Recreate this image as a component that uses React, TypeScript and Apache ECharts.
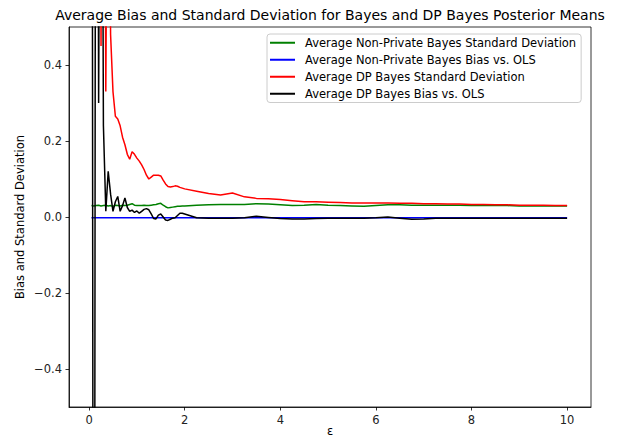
import React, { useEffect, useRef } from "react";
import * as echarts from "echarts";

// epsilon grid (x values)
const eps = [
  0.05, 0.1, 0.15, 0.2, 0.25, 0.3, 0.35, 0.4, 0.45, 0.5,
  0.55, 0.6, 0.65, 0.7, 0.75, 0.8, 0.85, 0.9, 0.95, 1.0,
  1.05, 1.1, 1.15, 1.2, 1.25, 1.3, 1.35, 1.4, 1.45, 1.5,
  1.55, 1.6, 1.65, 1.7, 1.75, 1.8, 1.85, 1.9, 1.95, 2.0,
  2.25, 2.5, 2.75, 3.0, 3.25, 3.5, 3.75, 4.0,
  4.25, 4.5, 4.75, 5.0, 5.25, 5.5, 5.75, 6.0,
  6.25, 6.5, 6.75, 7.0, 7.25, 7.5, 7.75, 8.0,
  8.25, 8.5, 8.75, 9.0, 9.25, 9.5, 9.75, 10.0,
];

const nonPrivateSD = [
  0.030, 0.029, 0.030, 0.031, 0.029, 0.030, 0.031, 0.029, 0.030, 0.028,
  0.031, 0.030, 0.029, 0.031, 0.030, 0.031, 0.033, 0.035, 0.031, 0.030,
  0.030, 0.030, 0.031, 0.030, 0.030, 0.031, 0.032, 0.033, 0.035, 0.036,
  0.031, 0.027, 0.024, 0.025, 0.026, 0.027, 0.028, 0.028, 0.029, 0.029,
  0.031, 0.032, 0.033, 0.033, 0.033, 0.035, 0.034, 0.032,
  0.030, 0.031, 0.033, 0.031, 0.030, 0.029, 0.028, 0.030,
  0.032, 0.032, 0.031, 0.031, 0.031, 0.031, 0.031, 0.030,
  0.030, 0.030, 0.030, 0.029, 0.029, 0.029, 0.029, 0.029,
];

const nonPrivateBias = [
  -0.002, -0.002, -0.002, -0.002, -0.002, -0.002, -0.002, -0.002, -0.002, -0.002,
  -0.002, -0.002, -0.002, -0.002, -0.002, -0.002, -0.002, -0.002, -0.002, -0.002,
  -0.002, -0.002, -0.002, -0.002, -0.002, -0.002, -0.002, -0.002, -0.002, -0.002,
  -0.002, -0.002, -0.002, -0.002, -0.002, -0.002, -0.002, -0.002, -0.002, -0.002,
  -0.002, -0.002, -0.002, -0.002, -0.002, -0.002, -0.002, -0.002,
  -0.002, -0.002, -0.002, -0.002, -0.002, -0.002, -0.002, -0.002,
  -0.002, -0.002, -0.002, -0.002, -0.002, -0.002, -0.002, -0.002,
  -0.002, -0.002, -0.002, -0.002, -0.002, -0.002, -0.002, -0.002,
];

const dpSD = [
  5.0, 3.0, 4.0, 2.5, 0.45, 2.0, 0.33, 1.4, 0.48, 0.33,
  0.265, 0.258, 0.24, 0.21, 0.19, 0.165, 0.152, 0.172, 0.165, 0.155,
  0.147, 0.137, 0.125, 0.11, 0.10, 0.105, 0.11, 0.11, 0.11, 0.108,
  0.097, 0.087, 0.080, 0.079, 0.080, 0.082, 0.081, 0.078, 0.076, 0.074,
  0.068, 0.062, 0.058, 0.063, 0.053, 0.049, 0.048, 0.046,
  0.043, 0.040, 0.040, 0.039, 0.038, 0.037, 0.037, 0.037,
  0.037, 0.036, 0.036, 0.035, 0.035, 0.034, 0.034, 0.033,
  0.033, 0.032, 0.032, 0.031, 0.031, 0.031, 0.030, 0.030,
];

const dpBias = [
  3.0, -3.0, 3.0, 0.3, 2.0, 0.24, 0.015, 0.12, 0.06, 0.015,
  0.04, 0.054, 0.015, 0.03, 0.05, 0.025, 0.015, 0.018, 0.012, 0.016,
  0.010, 0.015, 0.020, 0.022, 0.019, 0.008, -0.004, -0.005, 0.005, 0.008,
  0.0, -0.008, -0.009, -0.006, -0.003, -0.002, 0.004, 0.010, 0.010, 0.008,
  -0.002, -0.003, -0.003, -0.003, -0.002, 0.002, -0.001, -0.004,
  -0.005, -0.005, -0.004, -0.003, -0.003, -0.003, -0.003, -0.002,
  0.0, -0.003, -0.006, -0.005, -0.003, -0.003, -0.003, -0.003,
  -0.003, -0.003, -0.003, -0.003, -0.003, -0.003, -0.003, -0.003,
];

const xTicks = [0, 2, 4, 6, 8, 10];
const yTicks = [-0.4, -0.2, 0.0, 0.2, 0.4];

const seriesNames = [
  "Average Non-Private Bayes Standard Deviation",
  "Average Non-Private Bayes Bias vs. OLS",
  "Average DP Bayes Standard Deviation",
  "Average DP Bayes Bias vs. OLS",
];
const seriesColors = ["#008000", "#0000ff", "#ff0000", "#000000"];

export default function App() {
  const ref = useRef<HTMLDivElement>(null);
  useEffect(() => {
    const chart = echarts.init(ref.current!, null, { renderer: "svg" });
    const font = "DejaVu Sans";
    const fs = 11.5;
    const pairs = (ys: number[]) => eps.map((x, i) => [x, ys[i]]);
    const allData = [nonPrivateSD, nonPrivateBias, dpSD, dpBias];
    chart.setOption({
      animation: false,
      textStyle: { fontFamily: font },
      graphic: [
        {
          type: "text",
          x: 330,
          y: 15,
          style: {
            text: "Average Bias and Standard Deviation for Bayes and DP Bayes Posterior Means",
            fontFamily: font,
            fontSize: 14,
            fill: "#000",
            textAlign: "center",
            textVerticalAlign: "middle",
          },
        },
      ],
      grid: {
        left: 69,
        right: 27,
        top: 27,
        bottom: 33,
        outerBoundsMode: "none",
        containLabel: false,
        show: true,
        borderColor: "#000",
        borderWidth: 0.8,
      },
      legend: {
        orient: "vertical",
        left: 267,
        top: 34,
        data: seriesNames,
        icon: "rect",
        itemWidth: 25,
        itemHeight: 2,
        itemGap: 3.5,
        padding: [2, 5, 2, 3],
        backgroundColor: "rgba(255,255,255,0.8)",
        borderColor: "#cccccc",
        borderWidth: 1,
        borderRadius: 3,
        textStyle: { fontFamily: font, fontSize: fs, color: "#000", lineHeight: 13.5, padding: [0, 0, 0, 5] },
      },
      xAxis: {
        type: "value",
        min: -0.42,
        max: 10.5,
        name: "ε",
        nameLocation: "middle",
        nameGap: 18,
        nameMoveOverlap: false,
        nameTextStyle: { fontFamily: font, fontSize: fs, color: "#000" },
        axisLine: { show: true, onZero: false, lineStyle: { color: "#000", width: 0.8 } },
        splitLine: { show: false },
        axisTick: {
          show: true,
          inside: false,
          length: 3.5,
          customValues: xTicks,
          lineStyle: { color: "#000", width: 0.8 },
        },
        axisLabel: {
          customValues: xTicks,
          fontFamily: font,
          fontSize: fs,
          color: "#222",
          margin: 7,
          formatter: (v: number) => String(v),
        },
      },
      yAxis: {
        type: "value",
        min: -0.5,
        max: 0.5,
        name: "Bias and Standard Deviation",
        nameLocation: "middle",
        nameGap: 43,
        nameMoveOverlap: false,
        nameTextStyle: { fontFamily: font, fontSize: fs, color: "#000" },
        axisLine: { show: true, onZero: false, lineStyle: { color: "#000", width: 0.8 } },
        splitLine: { show: false },
        axisTick: {
          show: true,
          inside: false,
          length: 3.5,
          customValues: yTicks,
          lineStyle: { color: "#000", width: 0.8 },
        },
        axisLabel: {
          customValues: yTicks,
          fontFamily: font,
          fontSize: fs,
          color: "#222",
          margin: 7,
          formatter: (v: number) => (v < 0 ? "\u2212" : "") + Math.abs(v).toFixed(1),
        },
      },
      series: seriesNames.map((name, k) => ({
        name,
        type: "line",
        data: pairs(allData[k]),
        symbol: "none",
        showSymbol: false,
        clip: true,
        color: seriesColors[k],
        lineStyle: { color: seriesColors[k], width: 1.5 },
        z: 2 + k,
      })),
    });
    return () => chart.dispose();
  }, []);
  return (
    <div
      ref={ref}
      style={{ position: "fixed", left: 0, top: 0, width: 618, height: 440, background: "#fff" }}
    />
  );
}
